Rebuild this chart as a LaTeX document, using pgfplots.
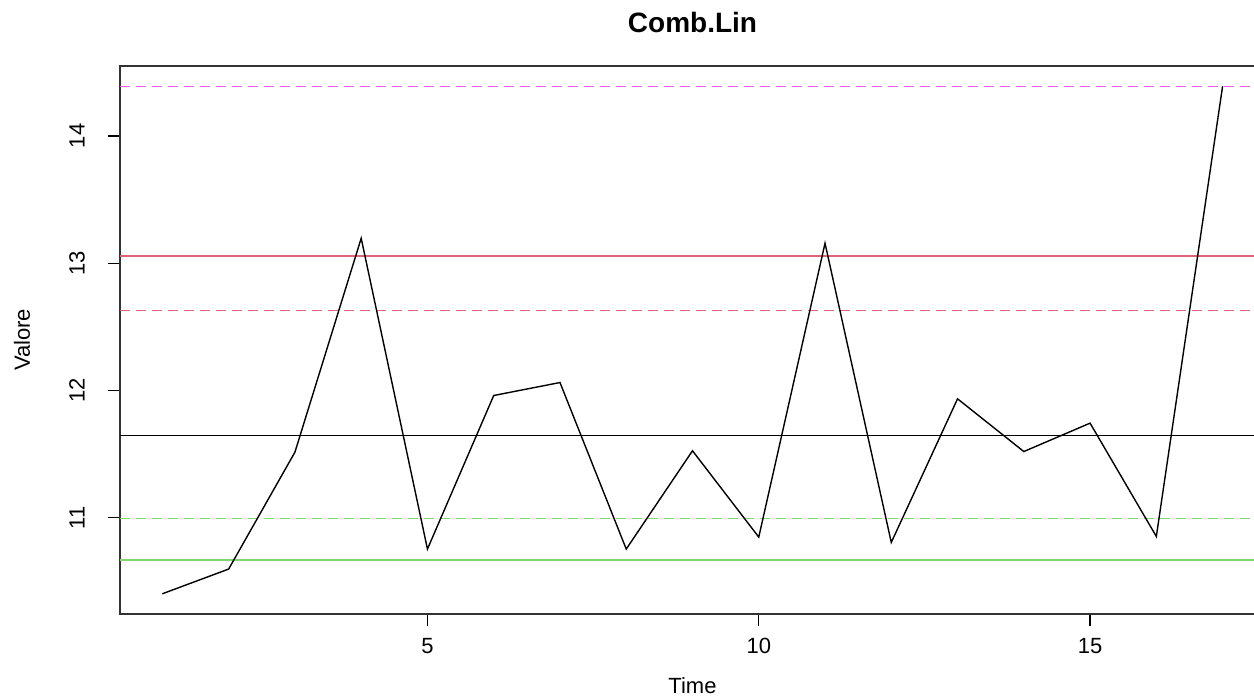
\documentclass[border=0pt]{standalone}
\usepackage{pgfplots}
\pgfplotsset{compat=1.18}
\usepackage{fontspec}
\setmainfont{Liberation Sans}
\definecolor{rmag}{RGB}{236,96,230}
\definecolor{rred}{RGB}{222,100,122}
\definecolor{rgreen}{RGB}{128,214,112}
\begin{document}
\begin{tikzpicture}
\begin{axis}[
  scale only axis, width=572.5pt, height=274pt,
  at={(0,0)}, anchor=south west,
  xmin=0.36, xmax=17.64, ymin=10.245, ymax=14.549,
  xtick={5,10,15}, ytick={11,12,13,14},
  tick align=outside, tick pos=left, major tick length=6pt,
  axis line style={black!80, line width=0.6pt},
  every tick/.style={black, line width=0.6pt},
  /pgf/number format/assume math mode=true,
  ticklabel style={font=\fontsize{11}{13}\selectfont, inner sep=0pt},
  xticklabel style={anchor=center},
  xticklabel shift=9.8pt,
  yticklabel style={rotate=90, anchor=center},
  yticklabel shift=15.5pt,
  clip=true,
]
\addplot[rmag, line width=0.7pt, dash pattern=on 5pt off 3pt] coordinates {(0.36,14.39) (17.64,14.39)};
\addplot[rred, line width=0.6pt] coordinates {(0.36,13.057) (17.64,13.057)};
\addplot[rred, line width=0.6pt, dash pattern=on 5pt off 3pt] coordinates {(0.36,12.626) (17.64,12.626)};
\addplot[black, line width=0.6pt] coordinates {(0.36,11.647) (17.64,11.647)};
\addplot[rgreen, line width=0.6pt, dash pattern=on 5pt off 3pt] coordinates {(0.36,10.995) (17.64,10.995)};
\addplot[rgreen, line width=0.6pt] coordinates {(0.36,10.669) (17.64,10.669)};
\addplot[black, line width=0.7pt] coordinates {
(1,10.404) (2,10.598) (3,11.516) (4,13.196) (5,10.755) (6,11.961) (7,12.063)
(8,10.755) (9,11.527) (10,10.849) (11,13.157) (12,10.807) (13,11.935)
(14,11.521) (15,11.744) (16,10.854) (17,14.39)};
\end{axis}
\node[font=\fontsize{14}{16}\selectfont\bfseries, anchor=center] at (286.25pt,296pt) {Comb.Lin};
\node[font=\fontsize{11}{13}\selectfont, anchor=center] at (286.25pt,-36pt) {Time};
\node[font=\fontsize{11}{13}\selectfont, anchor=center, rotate=90] at (-49pt,137pt) {Valore};
\pgfresetboundingbox
\path[use as bounding box] (-60pt,-41.5pt) rectangle (567pt,307pt);
\end{tikzpicture}
\end{document}
